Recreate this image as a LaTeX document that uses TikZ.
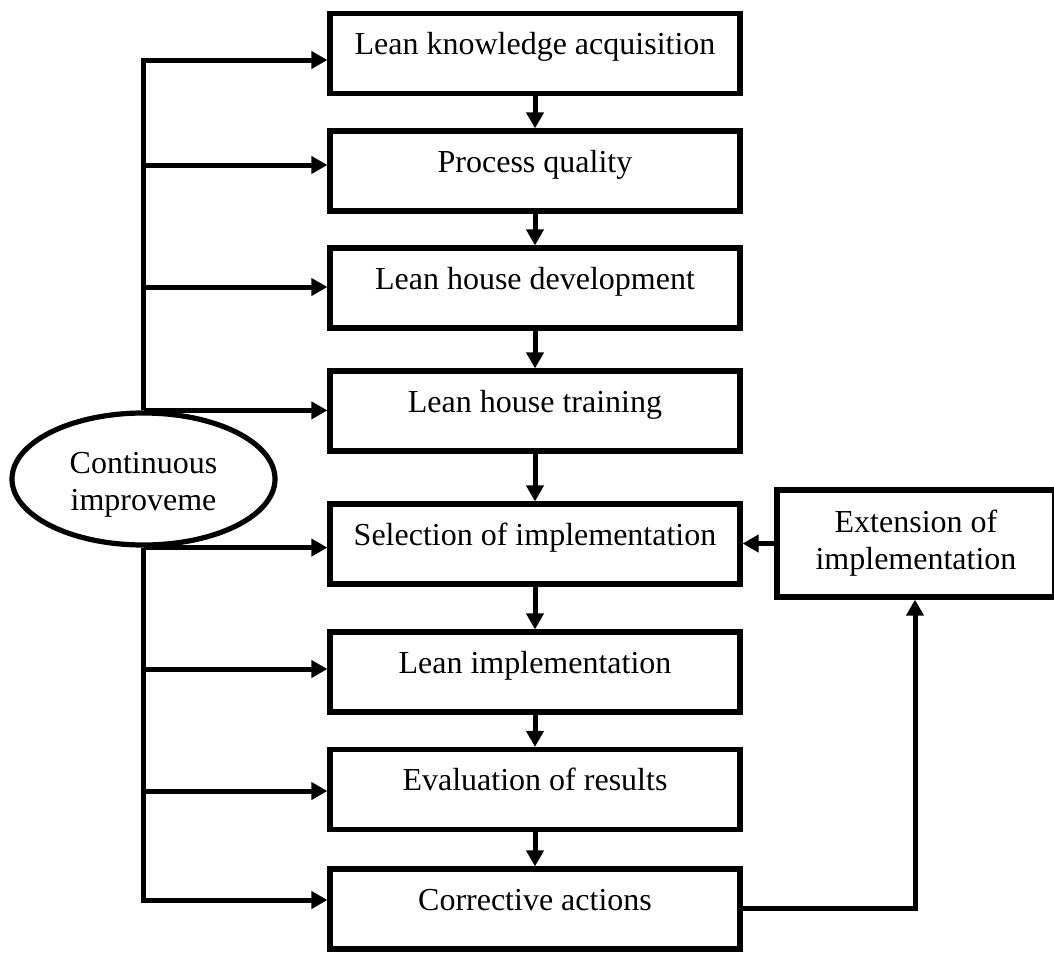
\documentclass[tikz,border=0pt]{standalone}
\usepackage{fontspec}
\setmainfont{Liberation Serif}
\usetikzlibrary{arrows.meta,shapes.geometric}
\begin{document}
\begin{tikzpicture}[x=0.5pt,y=-0.5pt,
  every node/.style={font=\fontsize{16}{18.5}\selectfont},
  stepbox/.style={draw,line width=2.6pt,minimum width=205pt,inner sep=0pt,
    text height=20.5pt,text depth=19.5pt},
  sidebox/.style={draw,line width=2.6pt,minimum width=139pt,minimum height=53.5pt,
    inner sep=0pt,align=center},
  loopnode/.style={draw,ellipse,line width=2.6pt,minimum width=131.5pt,
    minimum height=66pt,inner sep=0pt,align=center},
  conn/.style={line width=2.5pt,-{Triangle[length=8pt,width=8.5pt]}}]

\useasboundingbox (0,0) rectangle (1054,953);

% main chain of steps
\node[stepbox] (b1) at (535,53.5) {Lean knowledge acquisition};
\node[stepbox] (b2) at (535,171)  {Process quality};
\node[stepbox] (b3) at (535,288)  {Lean house development};
\node[stepbox] (b4) at (535,411)  {Lean house training};
\node[stepbox] (b5) at (535,544)  {Selection of implementation};
\node[stepbox] (b6) at (535,672)  {Lean implementation};
\node[stepbox] (b7) at (535,789.5){Evaluation of results};
\node[stepbox] (b8) at (535,909)  {Corrective actions};

% feedback box and the improvement loop
\node[sidebox] (ext) at (916,543.5) {Extension of\\implementation};
\node[loopnode] (ci) at (143.5,479) {\rule{0pt}{16pt}Continuous\\improveme};

% branch points on the left spine
\coordinate (s1) at (143.5,60);
\coordinate (s2) at (143.5,165);
\coordinate (s3) at (143.5,287);
\coordinate (s6) at (143.5,669);
\coordinate (s7) at (143.5,791);
\coordinate (s8) at (143.5,900);
\coordinate (r)  at (915,908);

% arrows between consecutive steps
\foreach \a/\b in {b1/b2,b2/b3,b3/b4,b4/b5,b5/b6,b6/b7,b7/b8}
  \draw[conn] (\a.south) -- (\b.north);

% spine from the ellipse to every step
\draw[conn] (ci.north) -- (s1) -- (b1.west |- s1);
\draw[conn] (ci.south) -- (s8) -- (b8.west |- s8);
\draw[conn] (s2) -- (b2.west |- s2);
\draw[conn] (s3) -- (b3.west |- s3);
\draw[conn] (ci.north) -- (b4.west |- ci.north);
\draw[conn] (ci.south) -- (b5.west |- ci.south);
\draw[conn] (s6) -- (b6.west |- s6);
\draw[conn] (s7) -- (b7.west |- s7);

% feedback path
\draw[conn] (b8.east |- r) -- (r) -- (r |- ext.south);
\draw[conn] (ext.west) -- (b5.east |- ext.west);
\end{tikzpicture}
\end{document}
